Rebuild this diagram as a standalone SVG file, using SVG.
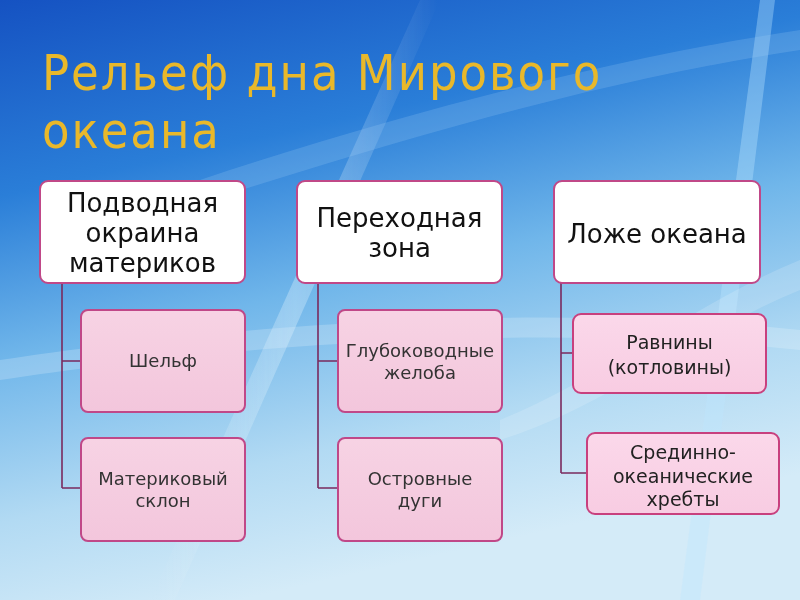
<svg xmlns="http://www.w3.org/2000/svg" width="800" height="600" viewBox="0 0 800 600">
<defs>
<linearGradient id="bg" x1="0" y1="0" x2="0.3" y2="1">
<stop offset="0" stop-color="#1552c2"/>
<stop offset="0.3" stop-color="#2a7ed8"/>
<stop offset="0.55" stop-color="#70b6ea"/>
<stop offset="0.8" stop-color="#b2daf3"/>
<stop offset="1" stop-color="#d4ebf8"/>
</linearGradient>
<linearGradient id="streak" x1="0" y1="0" x2="1" y2="0">
<stop offset="0" stop-color="#ffffff" stop-opacity="0"/>
<stop offset="0.5" stop-color="#e6f6ff" stop-opacity="0.85"/>
<stop offset="1" stop-color="#ffffff" stop-opacity="0"/>
</linearGradient>
<linearGradient id="pink" x1="0" y1="0" x2="0" y2="1">
<stop offset="0" stop-color="#f7d3e4"/>
<stop offset="1" stop-color="#f3c6dc"/>
</linearGradient>
<linearGradient id="pink2" x1="0" y1="0" x2="0" y2="1">
<stop offset="0" stop-color="#fbd8ea"/>
<stop offset="1" stop-color="#f8cce2"/>
</linearGradient>
</defs>
<style>
.parent{fill:#ffffff;stroke:#c04888;stroke-width:2}
.child{fill:url(#pink);stroke:#c04888;stroke-width:2}
.child2{fill:url(#pink2);stroke:#c8407e;stroke-width:2}
.pt{font-family:"DejaVu Sans","Noto Sans",sans-serif;font-size:26px;fill:#111;text-anchor:middle}
.ct{font-family:"DejaVu Sans","Noto Sans",sans-serif;font-size:18px;fill:#333;text-anchor:middle}
.ct2{font-family:"DejaVu Sans","Noto Sans",sans-serif;font-size:19px;fill:#222;text-anchor:middle}
.conn{fill:none;stroke:#7a2a5e;stroke-width:1.6}
.title{font-family:"DejaVu Sans Condensed","DejaVu Sans",sans-serif;font-stretch:condensed;font-size:50px;letter-spacing:2px;fill:#e9b82a}
</style>
<rect width="800" height="600" fill="url(#bg)"/>
<g opacity="0.8">
<path d="M150,600 L420,0 L440,0 L175,600 Z" fill="url(#streak)" opacity="0.5"/>
<path d="M200,180 C380,120 600,60 800,30 L800,50 C600,80 400,140 210,200 Z" fill="#cfeaff" opacity="0.2"/>
<path d="M680,600 L760,0 L775,0 L700,600 Z" fill="#bfe6ff" opacity="0.45"/>
<path d="M0,360 C200,330 500,300 800,330 L800,350 C500,320 200,350 0,380 Z" fill="#ffffff" opacity="0.25"/>
<path d="M500,420 C600,380 700,300 800,260 L800,290 C700,330 600,410 500,440 Z" fill="#ffffff" opacity="0.2"/>
</g>
<text class="title" x="42" y="90">Рельеф дна Мирового</text>
<text class="title" x="42" y="148">океана</text>
<g id="connectors">
<path class="conn" d="M62,283 V488 M62,361 H81 M62,488 H81"/>
<path class="conn" d="M318,283 V488 M318,361 H338 M318,488 H338"/>
<path class="conn" d="M561,283 V473 M561,353 H573 M561,473 H587"/>
</g>
<g id="n1">
<rect class="parent" x="40" y="181" width="205" height="102" rx="8"/>
<text class="pt" x="142.5" y="212">Подводная</text>
<text class="pt" x="142.5" y="242">окраина</text>
<text class="pt" x="142.5" y="272">материков</text>
</g>
<g id="n2">
<rect class="parent" x="297" y="181" width="205" height="102" rx="8"/>
<text class="pt" x="399.5" y="227">Переходная</text>
<text class="pt" x="399.5" y="257">зона</text>
</g>
<g id="n3">
<rect class="parent" x="554" y="181" width="206" height="102" rx="8"/>
<text class="pt" x="657" y="243">Ложе океана</text>
</g>
<g id="n4">
<rect class="child" x="81" y="310" width="164" height="102" rx="7"/>
<text class="ct" x="163" y="367">Шельф</text>
</g>
<g id="n5">
<rect class="child" x="81" y="438" width="164" height="103" rx="7"/>
<text class="ct" x="163" y="485">Материковый</text>
<text class="ct" x="163" y="507">склон</text>
</g>
<g id="n6">
<rect class="child" x="338" y="310" width="164" height="102" rx="7"/>
<text class="ct" x="420" y="357">Глубоководные</text>
<text class="ct" x="420" y="379">желоба</text>
</g>
<g id="n7">
<rect class="child" x="338" y="438" width="164" height="103" rx="7"/>
<text class="ct" x="420" y="485">Островные</text>
<text class="ct" x="420" y="507">дуги</text>
</g>
<g id="n8">
<rect class="child2" x="573" y="314" width="193" height="79" rx="8"/>
<text class="ct2" x="669.5" y="349">Равнины</text>
<text class="ct2" x="669.5" y="374">(котловины)</text>
</g>
<g id="n9">
<rect class="child2" x="587" y="433" width="192" height="81" rx="8"/>
<text class="ct2" x="683" y="459">Срединно-</text>
<text class="ct2" x="683" y="483">океанические</text>
<text class="ct2" x="683" y="506">хребты</text>
</g>
</svg>
